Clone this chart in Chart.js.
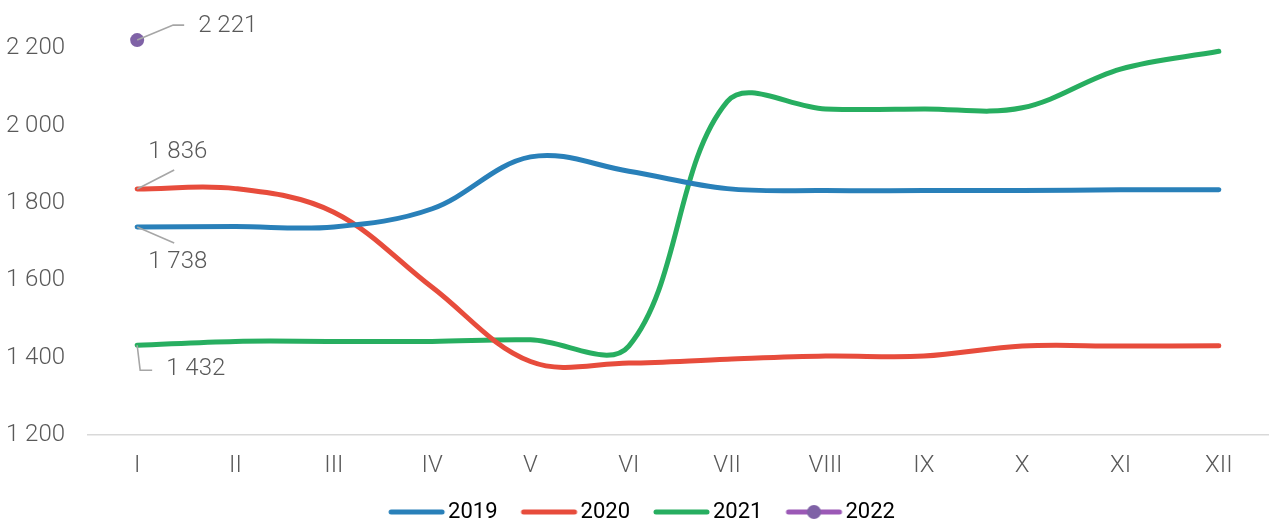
<!DOCTYPE html>
<html>
<head>
<meta charset="utf-8">
<script src="https://cdn.jsdelivr.net/npm/chart.js@4.4.1/dist/chart.umd.min.js"></script>
<style>
  html, body { margin: 0; padding: 0; background: #fff; }
  #wrap { width: 1275px; height: 519px; position: relative; }
</style>
</head>
<body>
<div id="wrap"><canvas id="chart"></canvas></div>
<script>
// Months (Roman numerals) and yearly series
const months = ['I', 'II', 'III', 'IV', 'V', 'VI', 'VII', 'VIII', 'IX', 'X', 'XI', 'XII'];
const years = ['2019', '2020', '2021', '2022'];
const v2019 = [1738, 1739, 1738, 1785, 1919, 1882, 1837, 1832, 1832, 1832, 1834, 1834];
const v2020 = [1836, 1837, 1776, 1582, 1390, 1386, 1396, 1404, 1404, 1430, 1430, 1431];
const v2021 = [1432, 1442, 1442, 1442, 1446, 1430, 2062, 2043, 2043, 2046, 2146, 2192];
const v2022 = [2221, null, null, null, null, null, null, null, null, null, null, null];
const yTicks = [1200, 1400, 1600, 1800, 2000, 2200];

const COLORS = ['#2980b9', '#e74c3c', '#27ae60', '#9b59b6'];
const POINT_2022 = '#7f62a6';
const TEXT = '#595959';
const FONT = "Roboto, 'Open Sans', sans-serif";

const fmt = v => String(Math.round(v)).replace(/\B(?=(\d{3})+(?!\d))/g, ' ');

// Legend swatch: thick rounded line, optional dot; line sits in the right part
function swatch(color, dot) {
  const c = document.createElement('canvas');
  c.width = 88; c.height = 16;
  const g = c.getContext('2d');
  g.strokeStyle = color;
  g.lineWidth = 5;
  g.lineCap = 'round';
  g.beginPath();
  g.moveTo(32, 8);
  g.lineTo(83, 8);
  g.stroke();
  if (dot) {
    g.fillStyle = dot;
    g.beginPath();
    g.arc(57.5, 8, 7, 0, Math.PI * 2);
    g.fill();
  }
  return c;
}

// First-point value labels with leader lines
const leaderLabels = {
  id: 'leaderLabels',
  afterLayout(chart) {
    // centre the visible legend row (swatch images carry blank space on the left)
    chart.legend.left -= 9;
    chart.legend.right -= 9;
  },
  afterDatasetsDraw(chart) {
    const c = chart.ctx;
    const specs = [
      { path: [[0, 0], [37, 16]], tx: 11, ty: 35 },
      { path: [[0, 0], [37, -19]], tx: 11, ty: -37 },
      { path: [[0, 0], [3, 25], [15, 25]], tx: 29, ty: 24 },
      { path: [[0, 0], [36, -15], [47, -15]], tx: 61, ty: -14 }
    ];
    c.save();
    chart.data.datasets.forEach((ds, i) => {
      const pt = chart.getDatasetMeta(i).data[0];
      const s = specs[i];
      if (!pt || !s) return;
      c.strokeStyle = '#a6a6a6';
      c.lineWidth = 1.6;
      c.beginPath();
      s.path.forEach(([dx, dy], k) => {
        if (k === 0) c.moveTo(pt.x + dx, pt.y + dy);
        else c.lineTo(pt.x + dx, pt.y + dy);
      });
      c.stroke();
      c.font = '300 24px ' + FONT;
      c.fillStyle = TEXT;
      c.textAlign = 'left';
      c.textBaseline = 'middle';
      c.fillText(fmt(ds.data[0]), pt.x + s.tx, pt.y + s.ty);
    });
    c.restore();
  }
};

const series = [v2019, v2020, v2021, v2022];

new Chart(document.getElementById('chart'), {
  type: 'line',
  plugins: [leaderLabels],
  data: {
    labels: months,
    datasets: series.map((data, i) => ({
      label: years[i],
      data,
      borderColor: COLORS[i],
      backgroundColor: i === 3 ? POINT_2022 : COLORS[i],
      borderWidth: 5,
      borderCapStyle: 'round',
      tension: 0.36,
      pointStyle: 'circle',
      pointRadius: i === 3 ? 7 : 0,
      pointBorderWidth: 0,
      clip: false
    }))
  },
  options: {
    responsive: true,
    maintainAspectRatio: false,
    animation: false,
    layout: { padding: { left: 7, right: 0, top: 0, bottom: -14 } },
    scales: {
      x: {
        offset: true,
        grid: { display: false, drawTicks: false },
        border: { display: true, color: '#d9d9d9', width: 1.5 },
        ticks: {
          padding: 19,
          color: TEXT,
          font: { family: FONT, size: 24, weight: '300', lineHeight: 1 }
        }
      },
      y: {
        min: 1200,
        max: 2228,
        grid: { display: false, drawTicks: false },
        border: { display: false },
        afterBuildTicks(axis) { axis.ticks = yTicks.map(v => ({ value: v })); },
        afterFit(axis) { axis.width = 81; },
        ticks: {
          padding: 23,
          color: TEXT,
          callback: v => fmt(v),
          font: { family: FONT, size: 24, weight: '300' }
        }
      }
    },
    plugins: {
      tooltip: { enabled: false },
      legend: {
        position: 'bottom',
        labels: {
          usePointStyle: true,
          pointStyleWidth: 68,
          padding: 4,
          color: '#333333',
          font: { family: FONT, size: 22, weight: '400', lineHeight: 1 },
          generateLabels(chart) {
            return chart.data.datasets.map((ds, i) => ({
              text: ds.label,
              pointStyle: swatch(COLORS[i], i === 3 ? POINT_2022 : null),
              fillStyle: COLORS[i],
              strokeStyle: 'transparent',
              lineWidth: 0,
              hidden: false,
              datasetIndex: i
            }));
          }
        }
      }
    }
  }
});
</script>
</body>
</html>
